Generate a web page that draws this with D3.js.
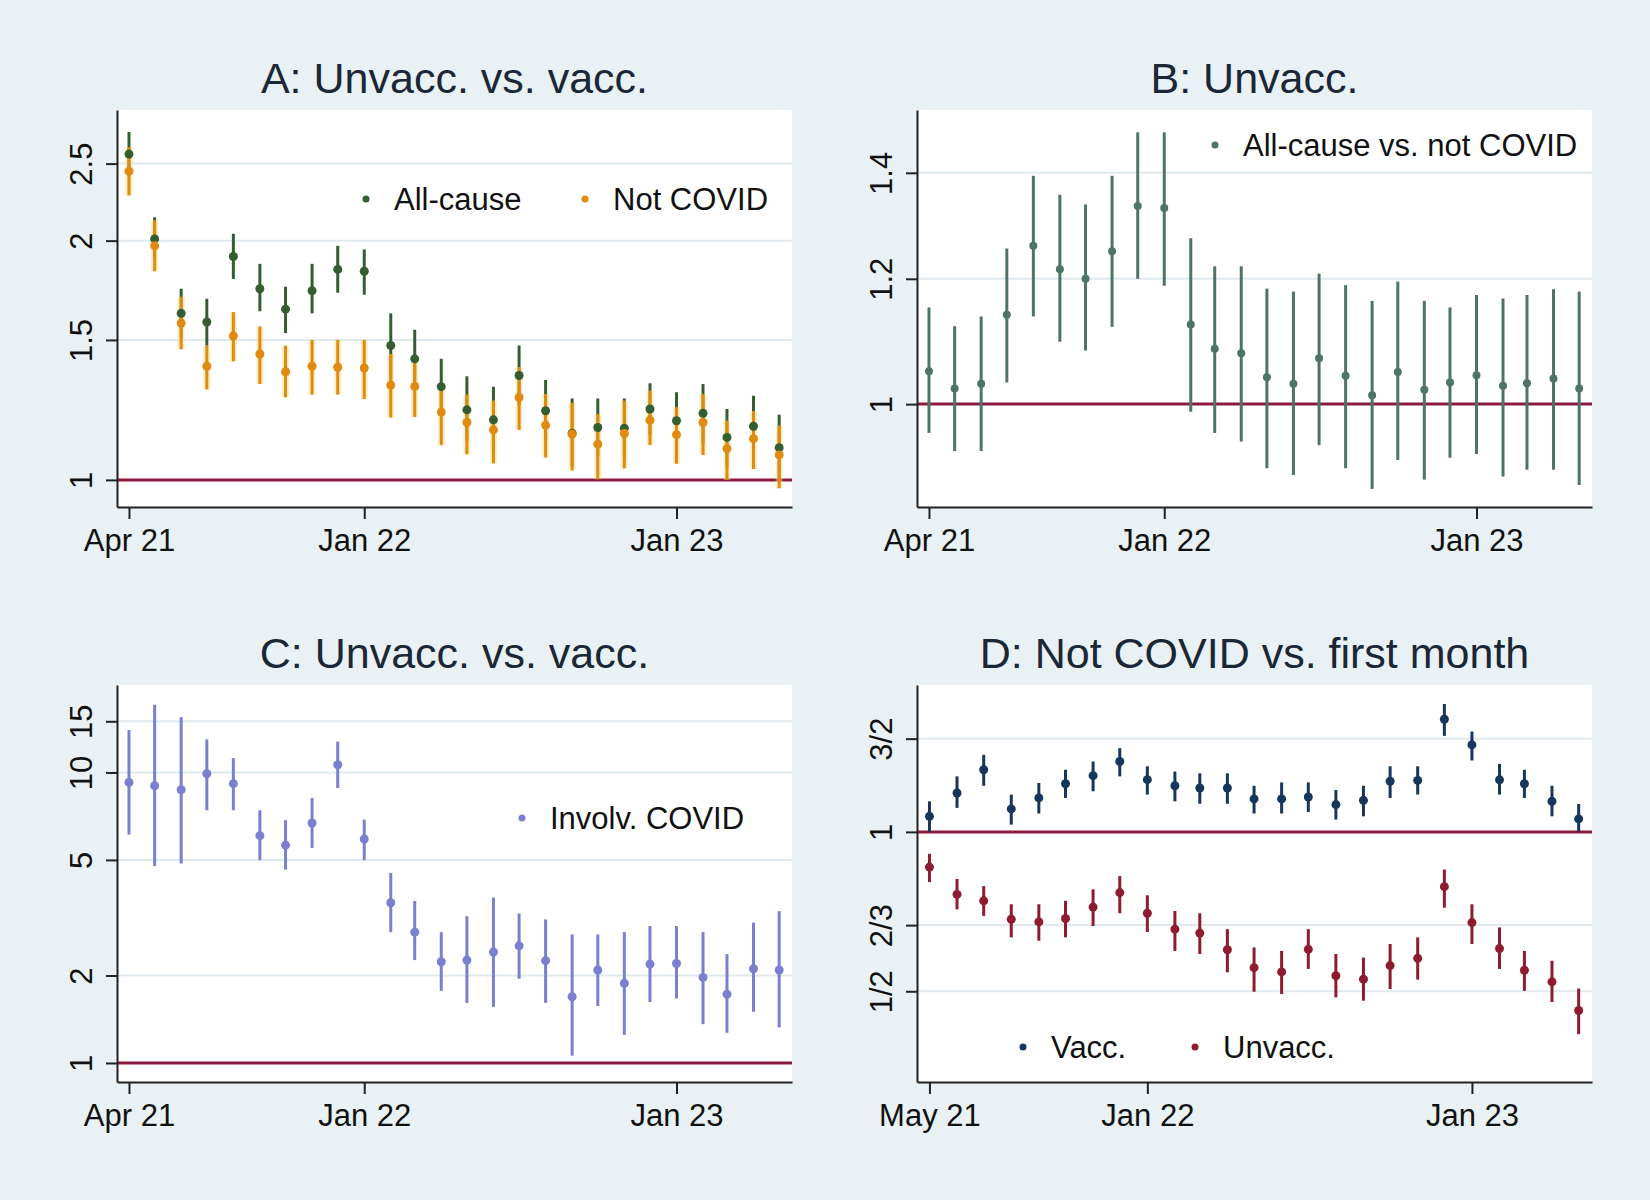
<!DOCTYPE html>
<html>
<head>
<meta charset="utf-8">
<script src="https://cdn.jsdelivr.net/npm/d3@7.9.0/dist/d3.min.js"></script>
<style>
  body { margin: 0; background: #e9f1f4; }
  svg { display: block; font-family: "Liberation Sans", Arial, sans-serif; }
</style>
</head>
<body>
<svg id="chart" width="1650" height="1200"></svg>
<script>
// months Apr 21 .. May 23 (panels A, B, C); panel D starts May 21
const months = ['2021-04','2021-05','2021-06','2021-07','2021-08','2021-09','2021-10','2021-11','2021-12',
  '2022-01','2022-02','2022-03','2022-04','2022-05','2022-06','2022-07','2022-08','2022-09','2022-10','2022-11','2022-12',
  '2023-01','2023-02','2023-03','2023-04','2023-05'];
const monthsD = months.slice(1);

// A: unvacc vs vacc
const allCause   = [2.57,2.01,1.62,1.58,1.91,1.74,1.64,1.73,1.84,1.83,1.476,1.42,1.31,1.225,1.19,1.353,1.222,1.145,1.164,1.161,1.228,1.187,1.213,1.131,1.168,1.098];
const allCauseLo = [2.41,1.89,1.51,1.475,1.79,1.63,1.53,1.62,1.72,1.71,1.34,1.31,1.21,1.12,1.08,1.24,1.12,1.04,1.07,1.065,1.14,1.09,1.11,1.04,1.07,1.00];
const allCauseHi = [2.74,2.14,1.74,1.69,2.04,1.87,1.75,1.87,1.97,1.95,1.62,1.545,1.42,1.35,1.31,1.476,1.336,1.266,1.266,1.266,1.323,1.289,1.32,1.228,1.276,1.208];
const notCovid   = [2.446,1.97,1.575,1.39,1.517,1.44,1.368,1.39,1.386,1.383,1.316,1.311,1.217,1.181,1.156,1.27,1.172,1.142,1.109,1.144,1.189,1.14,1.181,1.095,1.127,1.075];
const notCovidLo = [2.28,1.83,1.46,1.30,1.41,1.32,1.27,1.28,1.28,1.264,1.198,1.20,1.106,1.077,1.049,1.156,1.067,1.028,1.002,1.034,1.106,1.048,1.075,1.0,1.032,0.976];
const notCovidHi = [2.62,2.12,1.70,1.475,1.626,1.56,1.475,1.50,1.50,1.50,1.44,1.427,1.32,1.28,1.258,1.386,1.282,1.25,1.21,1.258,1.295,1.234,1.282,1.187,1.22,1.17];

// B: unvacc, all-cause vs not covid
const ratioB   = [1.049,1.023,1.030,1.139,1.259,1.217,1.20,1.249,1.334,1.33,1.123,1.084,1.077,1.04,1.03,1.069,1.042,1.013,1.048,1.021,1.032,1.043,1.027,1.031,1.038,1.023];
const ratioBLo = [0.959,0.934,0.934,1.032,1.136,1.095,1.081,1.119,1.20,1.188,0.989,0.959,0.947,0.911,0.902,0.942,0.911,0.884,0.922,0.896,0.925,0.93,0.90,0.909,0.909,0.889];
const ratioBHi = [1.151,1.12,1.136,1.254,1.394,1.356,1.337,1.394,1.485,1.485,1.273,1.222,1.222,1.183,1.178,1.209,1.189,1.162,1.195,1.162,1.151,1.172,1.166,1.172,1.182,1.178];

// C: involving covid, unvacc vs vacc
const involv   = [9.24,9.0,8.72,9.9,9.15,6.06,5.62,6.70,10.63,5.9,3.56,2.82,2.23,2.26,2.41,2.53,2.25,1.69,2.09,1.88,2.19,2.2,1.97,1.725,2.11,2.09];
const involvLo = [6.11,4.76,4.86,7.41,7.41,4.99,4.63,5.5,8.84,4.99,2.82,2.26,1.77,1.61,1.56,1.95,1.61,1.06,1.57,1.25,1.62,1.667,1.36,1.27,1.50,1.326];
const involvHi = [14.0,17.1,15.5,13.0,11.2,7.41,6.85,8.17,12.78,6.88,4.51,3.61,2.82,3.2,3.71,3.27,3.12,2.77,2.77,2.82,2.96,2.96,2.82,2.37,3.04,3.33];

// D: not covid vs first month
const vacc     = [1.07,1.184,1.31,1.105,1.159,1.233,1.277,1.358,1.255,1.222,1.21,1.21,1.154,1.154,1.164,1.126,1.147,1.246,1.251,1.632,1.46,1.254,1.233,1.142,1.058];
const vaccLo   = [1.0,1.11,1.222,1.032,1.083,1.159,1.193,1.273,1.176,1.142,1.13,1.13,1.083,1.083,1.09,1.055,1.07,1.159,1.176,1.518,1.364,1.176,1.159,1.07,1.003];
const vaccHi   = [1.142,1.273,1.398,1.176,1.237,1.31,1.358,1.439,1.33,1.30,1.29,1.29,1.222,1.24,1.24,1.20,1.222,1.33,1.33,1.744,1.547,1.344,1.31,1.222,1.129];
const unvacc   = [0.858,0.762,0.741,0.684,0.676,0.686,0.721,0.768,0.702,0.655,0.644,0.599,0.554,0.544,0.60,0.535,0.527,0.559,0.577,0.788,0.674,0.602,0.548,0.521,0.46];
const unvaccLo = [0.804,0.714,0.694,0.632,0.623,0.632,0.664,0.702,0.647,0.596,0.588,0.543,0.499,0.494,0.551,0.487,0.48,0.505,0.526,0.719,0.614,0.551,0.501,0.477,0.415];
const unvaccHi = [0.909,0.815,0.79,0.73,0.73,0.741,0.779,0.825,0.759,0.709,0.702,0.655,0.605,0.596,0.655,0.588,0.579,0.614,0.632,0.849,0.73,0.66,0.596,0.571,0.506];

// axis ticks
const xTicksABC = ['2021-04','2022-01','2023-01'];
const xTicksD = ['2021-05','2022-01','2023-01'];
const xTickLabelsABC = ['Apr 21','Jan 22','Jan 23'];
const xTickLabelsD = ['May 21','Jan 22','Jan 23'];
const yTicksA = [1, 1.5, 2, 2.5];
const yTicksB = [1, 1.2, 1.4];
const yTicksC = [1, 2, 5, 10, 15];
const yTicksD = [1/2, 2/3, 1, 3/2];
const yLabelsD = ['1/2', '2/3', '1', '3/2'];

const parse = d3.timeParse('%Y-%m');
const svg = d3.select('#chart');
const W = 675, H = 397;

svg.append('rect').attr('width', 1650).attr('height', 1200).attr('fill', '#e9f1f4');

function drawPanel(p) {
  const g = svg.append('g');
  const x = d3.scaleTime().domain(p.xDomain).range([p.left, p.left + W]);
  const y = d3.scaleLog().domain(p.yDomain).range([p.top + H, p.top]);

  g.append('rect').attr('x', p.left).attr('y', p.top).attr('width', W).attr('height', H).attr('fill', '#fff');

  // gridlines
  g.selectAll('.grid').data(p.yTicks.filter(d => d !== 1)).join('line')
    .attr('x1', p.left).attr('x2', p.left + W)
    .attr('y1', d => y(d)).attr('y2', d => y(d))
    .attr('stroke', '#e0e9ee').attr('stroke-width', 2);

  // reference line at 1
  g.append('line').attr('x1', p.left).attr('x2', p.left + W)
    .attr('y1', y(1)).attr('y2', y(1))
    .attr('stroke', '#8c1a3c').attr('stroke-width', 3);

  // axes
  const yAxis = g.append('g').attr('transform', `translate(${p.left},0)`)
    .call(d3.axisLeft(y).tickValues(p.yTicks).tickSize(11).tickSizeOuter(0)
      .tickFormat((d, i) => p.yLabels[i]));
  yAxis.selectAll('text')
    .attr('transform', 'rotate(-90)').attr('x', 0).attr('y', -25).attr('dy', 0)
    .attr('text-anchor', 'middle');

  const xAxis = g.append('g').attr('transform', `translate(0,${p.top + H})`)
    .call(d3.axisBottom(x).tickValues(p.xTicks.map(parse)).tickSize(12).tickSizeOuter(0)
      .tickFormat((d, i) => p.xLabels[i]));
  xAxis.selectAll('text').attr('y', 44).attr('dy', 0);

  [yAxis, xAxis].forEach(a => {
    a.select('.domain').attr('stroke', '#222').attr('stroke-width', 2);
    a.selectAll('.tick line').attr('stroke', '#222').attr('stroke-width', 2);
    a.selectAll('text').attr('font-size', 31).attr('fill', '#111')
      .attr('font-family', '"Liberation Sans", Arial, sans-serif');
  });

  // confidence spikes first, then markers
  p.series.forEach(s => {
    const rows = s.est.map((v, i) => ({ d: parse(s.months[i]), v, lo: s.lo[i], hi: s.hi[i] }));
    if (s.halo) {
      g.selectAll(null).data(rows).join('line')
        .attr('x1', d => x(d.d)).attr('x2', d => x(d.d))
        .attr('y1', d => y(d.lo)).attr('y2', d => y(d.hi))
        .attr('stroke', s.halo).attr('stroke-width', 7).attr('opacity', 0.45);
    }
    g.selectAll(null).data(rows).join('line')
      .attr('x1', d => x(d.d)).attr('x2', d => x(d.d))
      .attr('y1', d => y(d.lo)).attr('y2', d => y(d.hi))
      .attr('stroke', s.color).attr('stroke-width', 3);
    s.rows = rows;
  });
  p.series.forEach(s => {
    g.selectAll(null).data(s.rows).join('circle')
      .attr('cx', d => x(d.d)).attr('cy', d => y(d.v))
      .attr('r', s.r || 4.5).attr('fill', s.color);
  });

  // legend
  p.legend.forEach(l => {
    g.append('circle').attr('cx', l.x).attr('cy', l.y).attr('r', 3.5).attr('fill', l.color);
    g.append('text').attr('x', l.x + 28).attr('y', l.y + 11)
      .attr('font-size', 31).attr('fill', '#111').text(l.label);
  });

  // title
  g.append('text').attr('x', p.left + W / 2).attr('y', p.titleY)
    .attr('text-anchor', 'middle').attr('font-size', 43).attr('fill', '#1b2736')
    .text(p.title);
}

const domABC = [new Date(2021, 2, 18), new Date(2023, 4, 16)];
const domD = [new Date(2021, 3, 17), new Date(2023, 4, 16)];

drawPanel({
  left: 117, top: 110, title: 'A: Unvacc. vs. vacc.', titleY: 93,
  xDomain: domABC, yDomain: [0.9245, 2.92], yTicks: yTicksA, yLabels: yTicksA.map(String),
  xTicks: xTicksABC, xLabels: xTickLabelsABC,
  series: [
    { months, est: allCause, lo: allCauseLo, hi: allCauseHi, color: '#355e30' },
    { months, est: notCovid, lo: notCovidLo, hi: notCovidHi, color: '#e08a12', halo: '#f3dc7a' }
  ],
  legend: [
    { x: 366, y: 199, color: '#355e30', label: 'All-cause' },
    { x: 585, y: 199, color: '#e08a12', label: 'Not COVID' }
  ]
});

drawPanel({
  left: 917, top: 110, title: 'B: Unvacc.', titleY: 93,
  xDomain: domABC, yDomain: [0.861, 1.534], yTicks: yTicksB, yLabels: yTicksB.map(String),
  xTicks: xTicksABC, xLabels: xTickLabelsABC,
  series: [
    { months, est: ratioB, lo: ratioBLo, hi: ratioBHi, color: '#4e7467', r: 4 }
  ],
  legend: [
    { x: 1215, y: 145, color: '#4e7467', label: 'All-cause vs. not COVID' }
  ]
});

drawPanel({
  left: 117, top: 685, title: 'C: Unvacc. vs. vacc.', titleY: 668,
  xDomain: domABC, yDomain: [0.86, 20.0], yTicks: yTicksC, yLabels: yTicksC.map(String),
  xTicks: xTicksABC, xLabels: xTickLabelsABC,
  series: [
    { months, est: involv, lo: involvLo, hi: involvHi, color: '#7a7fd0' }
  ],
  legend: [
    { x: 522, y: 818, color: '#7a7fd0', label: 'Involv. COVID' }
  ]
});

drawPanel({
  left: 917, top: 685, title: 'D: Not COVID vs. first month', titleY: 668,
  xDomain: domD, yDomain: [0.337, 1.894], yTicks: yTicksD, yLabels: yLabelsD,
  xTicks: xTicksD, xLabels: xTickLabelsD,
  series: [
    { months: monthsD, est: vacc, lo: vaccLo, hi: vaccHi, color: '#16365c' },
    { months: monthsD, est: unvacc, lo: unvaccLo, hi: unvaccHi, color: '#8e1b2e' }
  ],
  legend: [
    { x: 1023, y: 1047, color: '#16365c', label: 'Vacc.' },
    { x: 1195, y: 1047, color: '#8e1b2e', label: 'Unvacc.' }
  ]
});
</script>
</body>
</html>
